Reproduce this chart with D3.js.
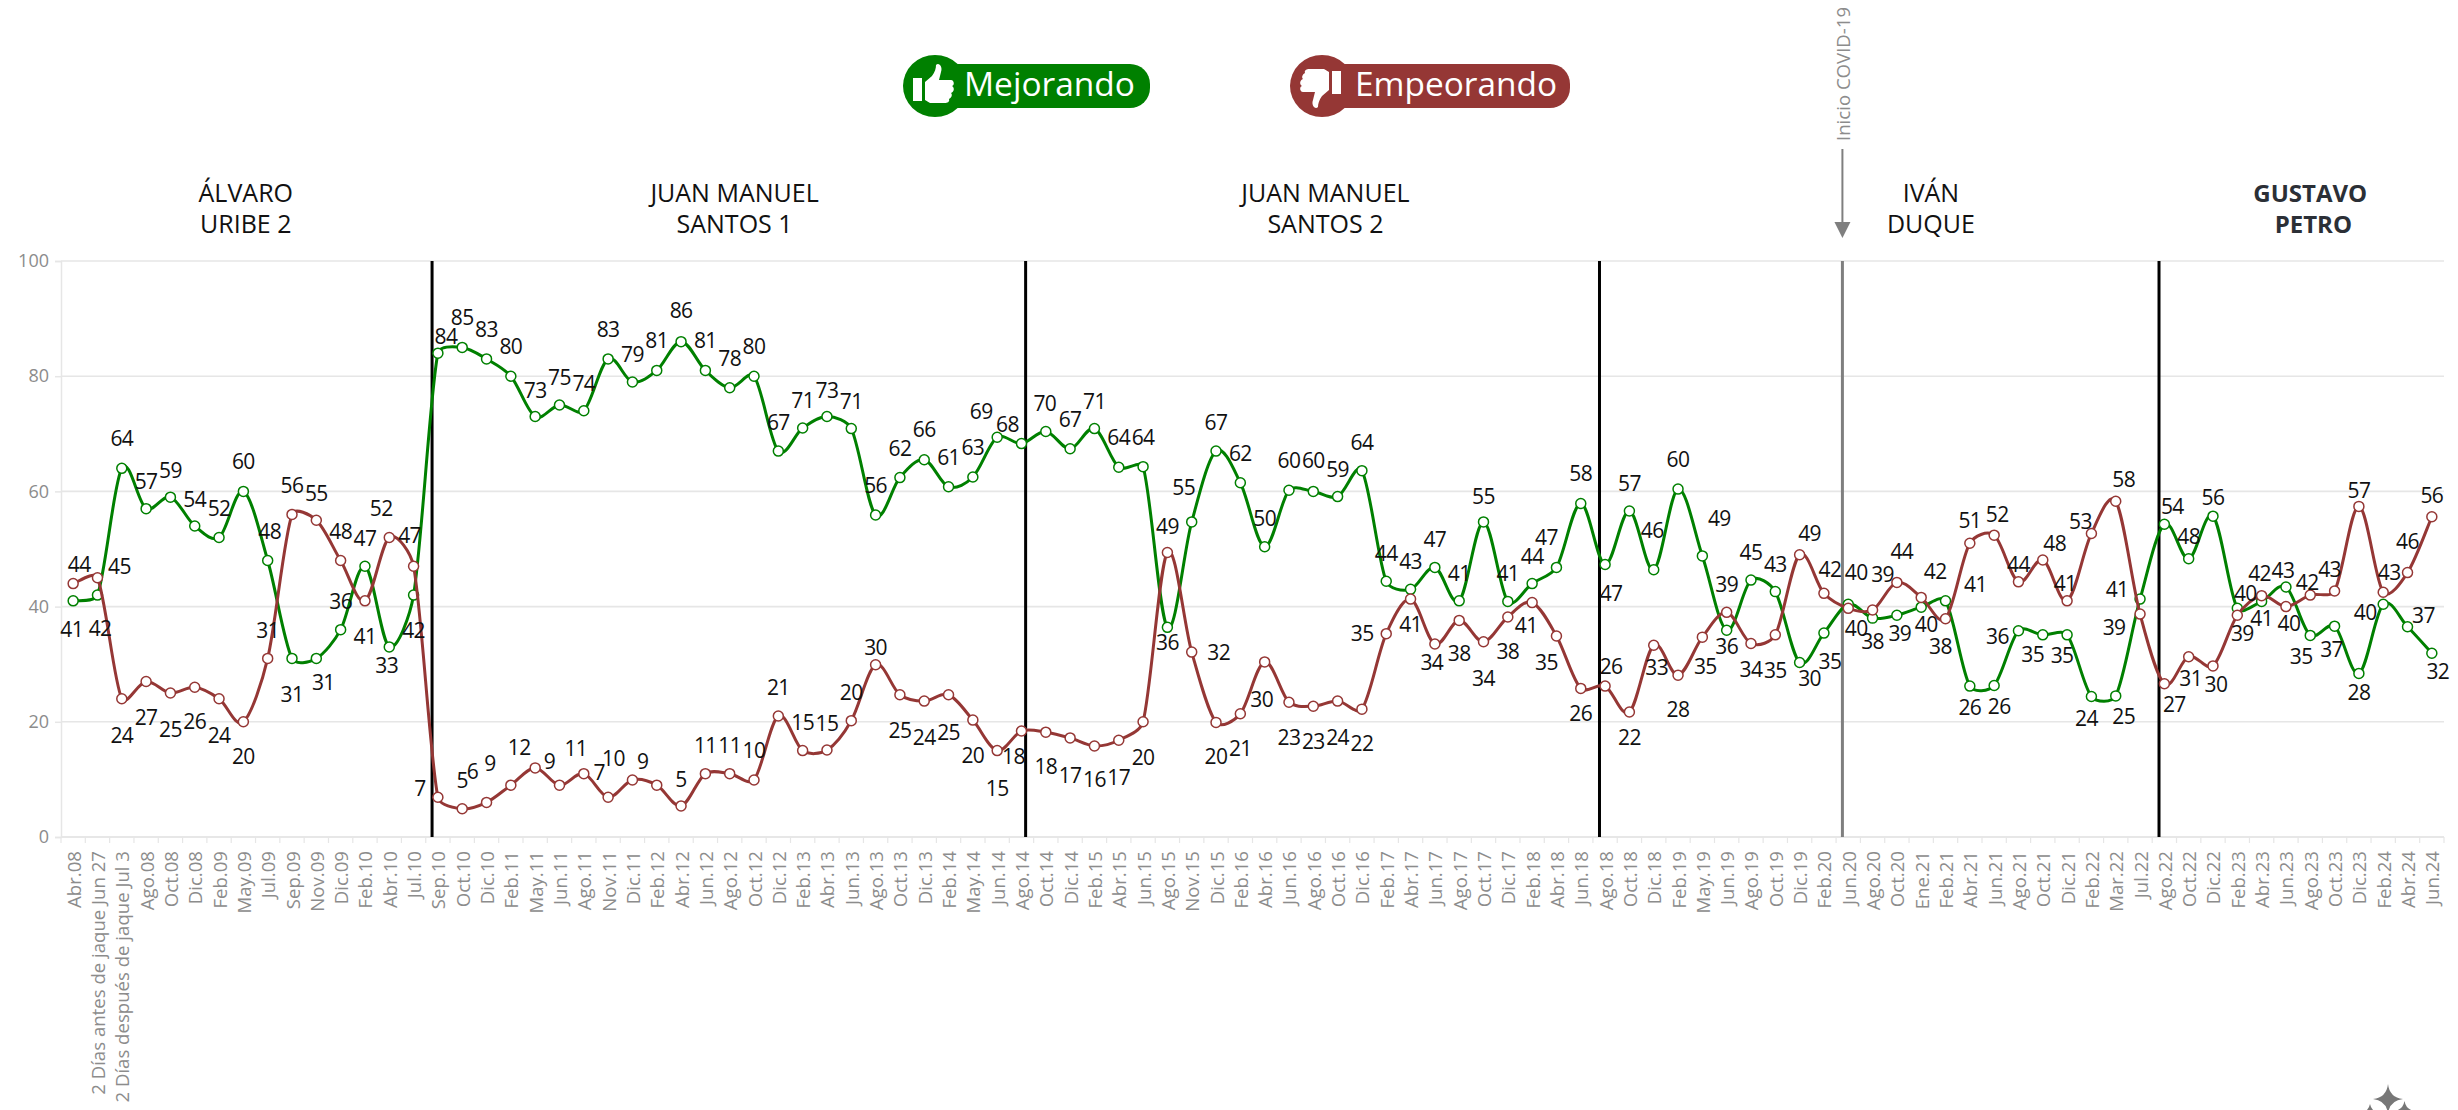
<!DOCTYPE html>
<html><head><meta charset="utf-8"><script src="https://cdnjs.cloudflare.com/ajax/libs/d3/7.8.5/d3.min.js"></script>
<style>html,body{margin:0;padding:0;background:#fff;overflow:hidden}svg{display:block;font-family:"Open Sans",sans-serif}</style></head>
<body><svg id="c" width="2458" height="1110"></svg>
<script>
const categories=["Abr.08","2 Días antes de jaque Jun 27","2 Días después de jaque Jul 3","Ago.08","Oct.08","Dic.08","Feb.09","May.09","Jul.09","Sep.09","Nov.09","Dic.09","Feb.10","Abr.10","Jul.10","Sep.10","Oct.10","Dic.10","Feb.11","May.11","Jun.11","Ago.11","Nov.11","Dic.11","Feb.12","Abr.12","Jun.12","Ago.12","Oct.12","Dic.12","Feb.13","Abr.13","Jun.13","Ago.13","Oct.13","Dic.13","Feb.14","May.14","Jun.14","Ago.14","Oct.14","Dic.14","Feb.15","Abr.15","Jun.15","Ago.15","Nov.15","Dic.15","Feb.16","Abr.16","Jun.16","Ago.16","Oct.16","Dic.16","Feb.17","Abr.17","Jun.17","Ago.17","Oct.17","Dic.17","Feb.18","Abr.18","Jun.18","Ago.18","Oct.18","Dic.18","Feb.19","May.19","Jun.19","Ago.19","Oct.19","Dic.19","Feb.20","Jun.20","Ago.20","Oct.20","Ene.21","Feb.21","Abr.21","Jun.21","Ago.21","Oct.21","Dic.21","Feb.22","Mar.22","Jul.22","Ago.22","Oct.22","Dic.22","Feb.23","Abr.23","Jun.23","Ago.23","Oct.23","Dic.23","Feb.24","Abr.24","Jun.24"];
const mejorando=[41,42,64,57,59,54,52,60,48,31,31,36,47,33,42,84,85,83,80,73,75,74,83,79,81,86,81,78,80,67,71,73,70.9,55.9,62.4,65.5,60.8,62.5,69.4,68.3,70.4,67.4,70.9,64.2,64.3,36.4,54.7,67,61.5,50.4,60.2,60,59.1,63.6,44.4,43,46.8,41,54.7,40.9,44,46.8,57.9,47.3,56.6,46.4,60.4,48.8,35.9,44.6,42.6,30.3,35.4,40.4,38,38.5,39.9,41,26.2,26.3,35.8,35.1,35.1,24.4,24.5,41.3,54.3,48.3,55.7,39.7,40.9,43.4,35,36.6,28.4,40.4,36.5,31.9];
const empeorando=[44,45,24,27,25,26,24,20,31,56,55,48,41,52,47,6.9,4.9,6,9,12,9,11,6.9,9.9,9,5.4,11,11,9.9,21,15,15.1,20.2,29.9,24.7,23.6,24.7,20.3,15,18.4,18.2,17.2,15.8,16.8,20,49.4,32.1,19.9,21.4,30.4,23.4,22.7,23.6,22.2,35.3,41.3,33.5,37.6,33.9,38.2,40.7,34.9,25.8,26.2,21.7,33.3,28.1,34.7,39,33.6,35.1,49,42.3,39.7,39.4,44.2,41.6,37.9,51,52.4,44.3,48.1,41,52.7,58.3,38.7,26.6,31.3,29.7,38.5,41.9,40,42,42.7,57.4,42.5,45.9,55.6];
const mejDx=[-1.5,2.6,0,0,0,0,0,0,2,0,7,0,0,-2.6,0,8,0,0,0,0,0,0,0,0,0,0,0,0,0,0,0,0,0,0,0,0,0,0,-16,-14,-1,0,0,0,0,0,-8,0,0,0,0,0,0,0,0,0,0,0,0,0,0,-10,0,6,0,-1.5,0,17,0,0,0,10,6,8,0,3,5,30,0,5,-21,-10,-5,-5,8,-23,8,0,0,8,0,-3,-9,-3,0,-18,16,6];
const mejDy=[28.5,33,-30,-28,-27,-27,-29,-30,-30,36,24,-29,-28,18,35,-17,-30,-30,-30,-27,-28,-28,-30,-28,-30,-32,-30,-30,-30,-29,-28,-27,-28,-30,-30,-31,-30,-30,-26,-20,-28,-30,-28,-30,-30,15,-35,-29,-30,-29,-30,-31,-28,-29,-28,-28,-28,-28,-26,-28,-28,-30,-30,28,-28,-40,-30,-38,16,-28,-28,16,28,24,23,18,17,-17,21,20,5,19,20,22,20,-10,-18,-23,-19,-15,17,-17,21,23,19,8,-12,18];
const empDx=[6,22,0,0,0,0,0,0,0,0,0,0,0,-8,-4,-18,0,-14,-21,-16,-10,-8,-9,-19,-14,0,0,0,0,0,0,0,0,0,0,0,0,0,0,-8,0,0,0,0,0,0,27,0,0,-3,0,0,0,0,-24,0,-3,0,0,0,-6,-10,0,6,0,3,0,3,0,0,0,10,6,8,10,5,14,-5,0,3,0,12,-2,-11,8,-26,10,2,3,5,-2,3,-3,-5,0,6,0,0];
const empDy=[-20,-12,36,36,36,34,36,34,-28,-29,-27,-30,35,-29,-31,-9,-29,-31,-22,-21,-24,-26,-25,-22,-24,-27,-29,-29,-30,-29,-29,-27,-29,-18,35,36,37,35,37,25,34,37,33,37,35,-26,0,34,34,37,35,35,36,34,-1,25,18,33,36,34,22,26,25,-20,25,22,34,29,-28,26,35,-22,-24,-36,-36,-31,-26,27,-23,-21,-18,-17,-18,-12,-22,13,20,21,18,18,-23,16,-13,-22,-16,-20,-32,-22];
const yTicks=[0,20,40,60,80,100];
const periodNames=[["ÁLVARO","URIBE 2"],["JUAN MANUEL","SANTOS 1"],["JUAN MANUEL","SANTOS 2"],["IVÁN","DUQUE"],["GUSTAVO"," PETRO"]];
const periodCenters=[7.6,27.7,52,76.9,92.5];
const dividers=[15.26,39.67,63.27,86.28];
const covidDivider=73.26;
const legendItems=["Mejorando","Empeorando"];
const GREEN="#008000",RED="#953735",GRID="#e6e6e6",AX="#8c8c8c";

const L=61,R=2444,T=261,B=837;
const svg=d3.select("#c");
const x=d3.scaleBand().domain(d3.range(categories.length)).range([L,R]);
const xPos=d3.scaleLinear().domain([0,categories.length]).range([L,R]);
const y=d3.scaleLinear().domain([0,100]).range([B,T]);
const cx=i=>x(i)+x.bandwidth()/2;

// Office-style smoothing: tangent along the neighbouring chord, handle limited by the segment length
function officeCurve(ctx){
 let pts=[];const s=0.33;
 return{
  areaStart(){},areaEnd(){},
  lineStart(){pts=[];},
  point(a,b){pts.push([+a,+b]);},
  lineEnd(){
   const n=pts.length;if(!n)return;
   const tan=i=>{const p=pts[Math.max(0,i-1)],q=pts[Math.min(n-1,i+1)],dx=q[0]-p[0],dy=q[1]-p[1],m=Math.hypot(dx,dy)||1;return[dx/m,dy/m,m/6];};
   ctx.moveTo(pts[0][0],pts[0][1]);
   for(let i=0;i<n-1;i++){
    const p=pts[i],q=pts[i+1],l=Math.hypot(q[0]-p[0],q[1]-p[1])*s,t0=tan(i),t1=tan(i+1);
    const h0=Math.min(l,t0[2]),h1=Math.min(l,t1[2]);
    ctx.bezierCurveTo(p[0]+t0[0]*h0,p[1]+t0[1]*h0,q[0]-t1[0]*h1,q[1]-t1[1]*h1,q[0],q[1]);
   }
  }
 };
}

// grid
svg.append("g").selectAll("line").data(yTicks).join("line")
 .attr("x1",L).attr("x2",R).attr("y1",d=>y(d)).attr("y2",d=>y(d))
 .attr("stroke",GRID).attr("stroke-width",1.6);
// y axis
const yG=svg.append("g").attr("transform",`translate(${L},0)`).call(d3.axisLeft(y).tickValues(yTicks).tickSize(6).tickPadding(6));
yG.selectAll("path,line").attr("stroke",GRID).attr("stroke-width",1.5);
yG.selectAll("text").attr("fill",AX).style("font-size","18px").style("font-family",'"Open Sans"');
// x axis
const xG=svg.append("g").attr("transform",`translate(0,${B})`);
xG.append("line").attr("x1",L).attr("x2",R).attr("stroke",GRID).attr("stroke-width",1.6);
xG.selectAll("line.t").data(d3.range(categories.length+1)).join("line").attr("class","t")
 .attr("x1",d=>xPos(d)).attr("x2",d=>xPos(d)).attr("y1",0).attr("y2",6).attr("stroke",GRID).attr("stroke-width",1.2);
xG.selectAll("text").data(categories).join("text")
 .attr("transform",(d,i)=>`translate(${cx(i)},14) rotate(-90)`)
 .attr("text-anchor","end").attr("dominant-baseline","central")
 .attr("fill",AX).style("font-size","18.6px").text(d=>d);

// dividers
svg.append("g").selectAll("line").data(dividers).join("line")
 .attr("x1",d=>xPos(d)).attr("x2",d=>xPos(d)).attr("y1",T).attr("y2",B)
 .attr("stroke","#000").attr("stroke-width",3);
svg.append("line").attr("x1",xPos(covidDivider)).attr("x2",xPos(covidDivider)).attr("y1",T).attr("y2",B)
 .attr("stroke","#7f7f7f").attr("stroke-width",3);

// covid note
const cvx=xPos(covidDivider);
svg.append("line").attr("x1",cvx).attr("x2",cvx).attr("y1",149).attr("y2",224).attr("stroke","#7f7f7f").attr("stroke-width",2);
svg.append("path").attr("d",`M${cvx-8},222L${cvx+8},222L${cvx},238Z`).attr("fill","#7f7f7f");
svg.append("text").attr("transform",`translate(${cvx},141) rotate(-90)`).attr("dominant-baseline","central")
 .attr("fill","#8c8c8c").style("font-size","18.6px").text("Inicio COVID-19");

// series
const line=d3.line().x((d,i)=>cx(i)).y(d=>y(d)).curve(officeCurve);
function series(vals,color,dxs,dys){
 const g=svg.append("g");
 g.append("path").attr("d",line(vals)).attr("fill","none").attr("stroke",color).attr("stroke-width",3);
 g.selectAll("circle").data(vals).join("circle").attr("cx",(d,i)=>cx(i)).attr("cy",d=>y(d)).attr("r",5)
  .attr("fill","#fff").attr("stroke",color).attr("stroke-width",1.5);
 return ()=>svg.append("g").selectAll("text").data(vals).join("text")
  .attr("x",(d,i)=>cx(i)+dxs[i]).attr("y",(d,i)=>y(d)+dys[i])
  .attr("text-anchor","middle").attr("dominant-baseline","central")
  .attr("fill","#111").style("font-size","21px").style("letter-spacing","-0.6px").text(d=>Math.round(d));
}
const a=series(mejorando,GREEN,mejDx,mejDy);
const b=series(empeorando,RED,empDx,empDy);
a();b();

// period titles
periodNames.forEach((p,i)=>{
 const bold=i===periodNames.length-1;
 p.forEach((t,j)=>{
  svg.append("text").attr("x",xPos(periodCenters[i])).attr("y",192+j*31)
   .attr("text-anchor","middle").attr("dominant-baseline","central").attr("xml:space","preserve")
   .style("white-space","pre").style("font-size",bold?"24px":"25px").style("font-weight",bold?700:400)
   .attr("fill",bold?"#2b2f36":"#111").text(t);
 });
});

// legend
const thumb="M-10,-4L-3,-10C0,-14 1,-18 1,-21C4,-24 8,-19 6,-14L4,-6L16,-6C19,-6 20,-1 17,0C20,2 19,6 16,7C18,9 16,12 14,13C15,16 12,17 10,17L-5,17L-10,14Z M-22,-8H-13V15H-22Z";
const legX=d3.scaleOrdinal().domain(legendItems).range([935,1322]);
const legEnd=d3.scaleOrdinal().domain(legendItems).range([1150,1570]);
const legTxt=d3.scaleOrdinal().domain(legendItems).range([964,1355]);
const legW=d3.scaleOrdinal().domain(legendItems).range([171,202]);
const legC=d3.scaleOrdinal().domain(legendItems).range([GREEN,RED]);
legendItems.forEach((n,i)=>{
 const g=svg.append("g");
 g.append("rect").attr("x",legX(n)).attr("y",64).attr("width",legEnd(n)-legX(n)).attr("height",44).attr("rx",20).attr("fill",legC(n));
 g.append("ellipse").attr("cx",legX(n)).attr("cy",86).attr("rx",32).attr("ry",31).attr("fill",legC(n));
 g.append("path").attr("d",thumb).attr("fill","#fff")
  .attr("transform",i===0?`translate(${legX(n)},86)`:`translate(${legX(n)-3},86) scale(-1,-1)`);
 g.append("text").attr("x",legTxt(n)).attr("y",83.5).attr("dominant-baseline","central").attr("fill","#fff")
  .attr("textLength",legW(n)).attr("lengthAdjust","spacingAndGlyphs").style("font-size","33px").text(n);
});

// watermark sparkle
const star=(X,Y,r)=>`M${X},${Y-r}Q${X+1.5},${Y-1.5} ${X+r},${Y}Q${X+1.5},${Y+1.5} ${X},${Y+r}Q${X-1.5},${Y+1.5} ${X-r},${Y}Q${X-1.5},${Y-1.5} ${X},${Y-r}Z`;
svg.append("path").attr("d",star(2388,1099,15)+star(2404.5,1111,10)+star(2370,1113,9)).attr("fill","#777");
</script></body></html>
